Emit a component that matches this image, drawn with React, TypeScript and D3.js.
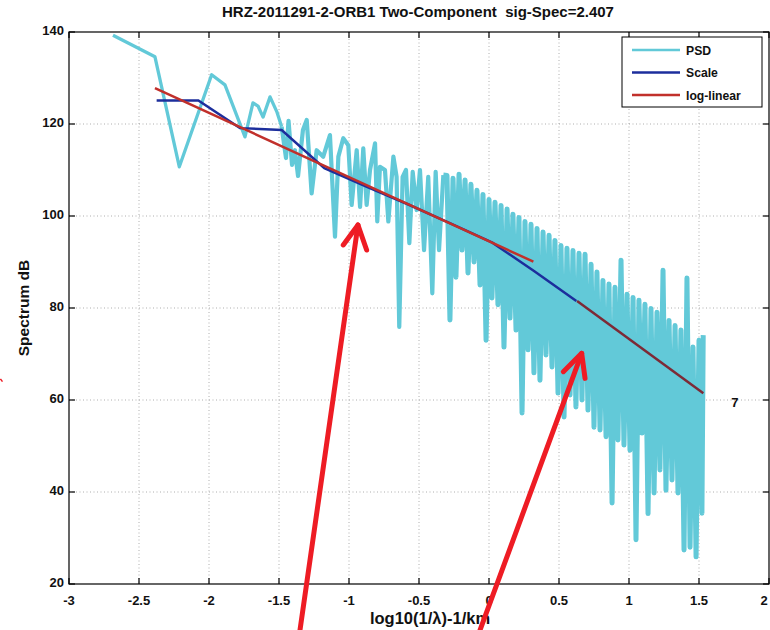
import React from "react";
import * as d3 from "d3";

const W = 770;
const H = 630;

const titleText = "HRZ-2011291-2-ORB1 Two-Component  sig-Spec=2.407";
const xLabel = "log10(1/\u03bb)-1/km";
const yLabel = "Spectrum dB";
const xTicks = [-3, -2.5, -2, -1.5, -1, -0.5, 0, 0.5, 1, 1.5, 2];
const yTicks = [20, 40, 60, 80, 100, 120, 140];
const legendNames = ["PSD", "Scale", "log-linear"];

// PSD: low frequency part
const psdLowX = [-2.686, -2.386, -2.212, -1.981, -1.886, -1.743, -1.686, -1.65, -1.614, -1.564, -1.516, -1.481];
const psdLowY = [139.3, 134.6, 110.7, 130.7, 128.5, 117.2, 124.6, 123.9, 121.5, 125.9, 122.7, 119.4];
// PSD: mid frequency part
const psdMidX = [
  -1.481, -1.45, -1.432, -1.407, -1.386, -1.364, -1.329, -1.302, -1.267, -1.231, -1.184, -1.136, -1.1,
  -1.076, -1.041, -1.005, -0.981, -0.945, -0.921, -0.898, -0.874, -0.85, -0.814, -0.798, -0.779,
  -0.743, -0.719, -0.683, -0.66, -0.641, -0.617, -0.593, -0.569, -0.545, -0.517, -0.493, -0.464,
  -0.434, -0.405, -0.381, -0.357, -0.326,
];
const psdMidY = [
  119.4, 112.6, 120.7, 111.1, 114.3, 108.7, 118.7, 120.9, 104.9, 114.3, 112.9, 117.6, 95.5,
  112.9, 116.9, 115.4, 102.4, 114.3, 102.0, 114.7, 102.4, 110.0, 115.8, 98.8, 110.7,
  110.0, 98.8, 112.9, 108.5, 75.9, 108.5, 110.0, 94.1, 109.6, 101.3, 110.0, 92.6,
  108.5, 83.2, 109.6, 92.6, 108.9,
];
// PSD: dense high-frequency part (alternating peaks and troughs)
const psdHighX = [
  -0.326, -0.3, -0.279, -0.257, -0.236, -0.214, -0.193, -0.171, -0.15, -0.129, -0.107, -0.086, -0.064,
  -0.043, -0.021, 0.0, 0.021, 0.043, 0.064, 0.086, 0.107, 0.129, 0.15, 0.171, 0.193,
  0.214, 0.236, 0.257, 0.279, 0.3, 0.321, 0.343, 0.364, 0.386, 0.407, 0.429, 0.45,
  0.471, 0.493, 0.514, 0.536, 0.557, 0.579, 0.6, 0.621, 0.643, 0.664, 0.686, 0.707,
  0.729, 0.75, 0.771, 0.793, 0.814, 0.836, 0.857, 0.879, 0.9, 0.921, 0.943, 0.964,
  0.986, 1.007, 1.029, 1.05, 1.071, 1.093, 1.114, 1.136, 1.157, 1.179, 1.2, 1.221,
  1.243, 1.264, 1.286, 1.307, 1.329, 1.35, 1.371, 1.393, 1.414, 1.436, 1.457, 1.479,
  1.5, 1.521, 1.53,
];
const psdHighY = [
  108.9, 108.8, 77.4, 108.2, 86.7, 109.1, 92.6, 107.8, 87.6, 106.9, 90.0, 105.6, 85.0,
  104.7, 73.0, 103.6, 82.2, 103.0, 80.7, 102.3, 71.5, 101.5, 77.8, 100.4, 75.2,
  99.7, 57.2, 98.8, 70.9, 98.2, 65.9, 97.3, 64.3, 96.5, 69.8, 95.8, 67.2,
  94.7, 61.5, 93.6, 56.3, 93.0, 61.1, 92.5, 58.5, 91.9, 60.0, 91.7, 57.8,
  89.5, 54.1, 87.8, 53.5, 86.0, 52.0, 85.2, 37.6, 84.5, 51.3, 90.4, 50.2,
  83.0, 49.1, 82.3, 29.6, 81.7, 52.8, 80.8, 35.3, 79.9, 39.8, 79.1, 44.8,
  88.2, 40.4, 77.3, 42.6, 76.2, 39.8, 75.2, 27.4, 86.5, 28.0, 71.5, 25.9,
  73.0, 35.4, 74.1,
];

const scaleX = [-2.374, -2.076, -1.779, -1.481, -1.176, -0.876, -0.576, -0.276, 0.024, 0.324, 0.624];
const scaleY = [125.1, 125.1, 119.1, 118.7, 110.4, 106.4, 102.5, 98.4, 94.2, 88.0, 81.5];

const logLin1X = [-2.386, 0.317];
const logLin1Y = [127.8, 90.07];
const logLin2X = [0.629, 1.531];
const logLin2Y = [81.5, 61.46];

const annotText = "7";
const annotX = 1.757;
const annotY = 59.6;

// red arrows (annotation): [tail, tip, barbLeft, barbRight] in data units
const arrow1X = [-1.35, -0.936, -1.041, -0.874];
const arrow1Y = [10.0, 98.04, 93.7, 92.6];
const arrow2X = [-0.064, 0.662, 0.531, 0.686];
const arrow2Y = [10.0, 70.15, 66.15, 64.7];

const C_PSD = "#62c9d8";
const C_SCALE = "#1c2e9c";
const C_RED = "#c1302b";
const C_RED2 = "#7d2a36";
const FONT = "'Liberation Sans', Arial, Helvetica, sans-serif";

export default function App() {
  const x = d3.scaleLinear().domain([-3, 2]).range([69, 769]);
  const y = d3.scaleLinear().domain([20, 140]).range([584, 32]);
  const x0 = x(-3), x1 = x(2), y0 = y(20), y1 = y(140);

  const line = d3
    .line<[number, number]>()
    .x((d) => x(d[0]))
    .y((d) => y(d[1]));

  const zip = (a: number[], b: number[]) => a.map((v, i) => [v, b[i]] as [number, number]);

  const arrow = (ax: number[], ay: number[], key: string) => {
    const tail: [number, number] = [ax[0], ay[0]];
    const tip: [number, number] = [ax[1], ay[1]];
    const bl: [number, number] = [ax[2], ay[2]];
    const br: [number, number] = [ax[3], ay[3]];
    return (
      <g key={key} stroke="#ee1c24" strokeWidth={5} fill="none" strokeLinecap="round" strokeLinejoin="round">
        <path d={line([tail, tip]) || ""} />
        <path d={line([bl, tip, br]) || ""} />
      </g>
    );
  };

  const tickLen = 6;
  const legX = 622, legY = 37, legW = 140, legH = 70;
  const legColors = [C_PSD, C_SCALE, C_RED];

  return (
    <svg
      width={W}
      height={H}
      style={{ position: "absolute", left: 0, top: 0, background: "#fff" }}
      fontFamily={FONT}
    >
      <rect x={0} y={0} width={W} height={H} fill="#fff" />
      <clipPath id="plotclip">
        <rect x={x0} y={y1} width={x1 - x0} height={y0 - y1} />
      </clipPath>
      {/* grid */}
      <g stroke="#9a9a9a" strokeWidth={0.8} strokeDasharray="1 2.5">
        {xTicks.slice(1, -1).map((t) => (
          <line key={"gx" + t} x1={x(t)} x2={x(t)} y1={y1} y2={y0} />
        ))}
        {yTicks.slice(1, -1).map((t) => (
          <line key={"gy" + t} x1={x0} x2={x1} y1={y(t)} y2={y(t)} />
        ))}
      </g>
      <g clipPath="url(#plotclip)">
        <path d={line(zip(psdLowX, psdLowY)) || ""} fill="none" stroke={C_PSD} strokeWidth={3.3} strokeLinejoin="round" />
        <path d={line(zip(psdMidX, psdMidY)) || ""} fill="none" stroke={C_PSD} strokeWidth={4.2} strokeLinejoin="round" />
        <path d={line(zip(psdHighX, psdHighY)) || ""} fill="none" stroke={C_PSD} strokeWidth={5} strokeLinejoin="round" />
        <path d={line(zip(scaleX, scaleY)) || ""} fill="none" stroke={C_SCALE} strokeWidth={2.5} />
        <path d={line(zip(logLin1X, logLin1Y)) || ""} fill="none" stroke={C_RED} strokeWidth={2.5} />
        <path d={line(zip(logLin2X, logLin2Y)) || ""} fill="none" stroke={C_RED2} strokeWidth={2.5} />
      </g>
      {/* axes box and ticks */}
      <g stroke="#000" strokeWidth={1.2}>
        <rect x={x0} y={y1} width={x1 - x0} height={y0 - y1} fill="none" />
        {xTicks.map((t) => (
          <g key={"tx" + t}>
            <line x1={x(t)} x2={x(t)} y1={y0} y2={y0 - tickLen} />
            <line x1={x(t)} x2={x(t)} y1={y1} y2={y1 + tickLen} />
          </g>
        ))}
        {yTicks.map((t) => (
          <g key={"ty" + t}>
            <line x1={x0} x2={x0 + tickLen} y1={y(t)} y2={y(t)} />
            <line x1={x1} x2={x1 - tickLen} y1={y(t)} y2={y(t)} />
          </g>
        ))}
      </g>
      {/* tick labels */}
      <g fontSize={13} fontWeight="bold" fill="#111">
        {xTicks.map((t) => (
          <text key={"lx" + t} x={Math.min(x(t), 764)} y={y0 + 21} textAnchor="middle">
            {String(t)}
          </text>
        ))}
        {yTicks.map((t) => (
          <text key={"ly" + t} x={x0 - 5} y={y(t) + 3} textAnchor="end">
            {String(t)}
          </text>
        ))}
      </g>
      <text x={430} y={624} textAnchor="middle" fontSize={16.5} fontWeight="bold" fill="#111">
        {xLabel}
      </text>
      <text
        transform={`translate(29,${(y0 + y1) / 2}) rotate(-90)`}
        textAnchor="middle"
        fontSize={15.5}
        fontWeight="bold"
        fill="#111"
      >
        {yLabel}
      </text>
      <text
        x={418}
        y={17}
        textAnchor="middle"
        fontSize={15}
        fontWeight="bold"
        fill="#111"
        style={{ whiteSpace: "pre" }}
      >
        {titleText}
      </text>
      <text x={x(annotX)} y={y(annotY) + 5} textAnchor="middle" fontSize={13} fontWeight="bold" fill="#111">
        {annotText}
      </text>
      {/* legend */}
      <g>
        <rect x={legX} y={legY} width={legW} height={legH} fill="#fff" stroke="#000" strokeWidth={1} />
        {legendNames.map((n, i) => (
          <g key={n}>
            <line
              x1={legX + 10}
              x2={legX + 58}
              y1={legY + 13 + i * 22.5}
              y2={legY + 13 + i * 22.5}
              stroke={legColors[i]}
              strokeWidth={2.5}
            />
            <text x={legX + 64} y={legY + 17.5 + i * 22.5} fontSize={12.2} fontWeight="bold" fill="#111">
              {n}
            </text>
          </g>
        ))}
      </g>
      {/* red arrow annotations */}
      {arrow(arrow1X, arrow1Y, "a1")}
      {arrow(arrow2X, arrow2Y, "a2")}
      <line x1={x(-3.49)} x2={x(-3.475)} y1={y(64.6)} y2={y(64.0)} stroke="#ee1c24" strokeWidth={1.5} />
    </svg>
  );
}
